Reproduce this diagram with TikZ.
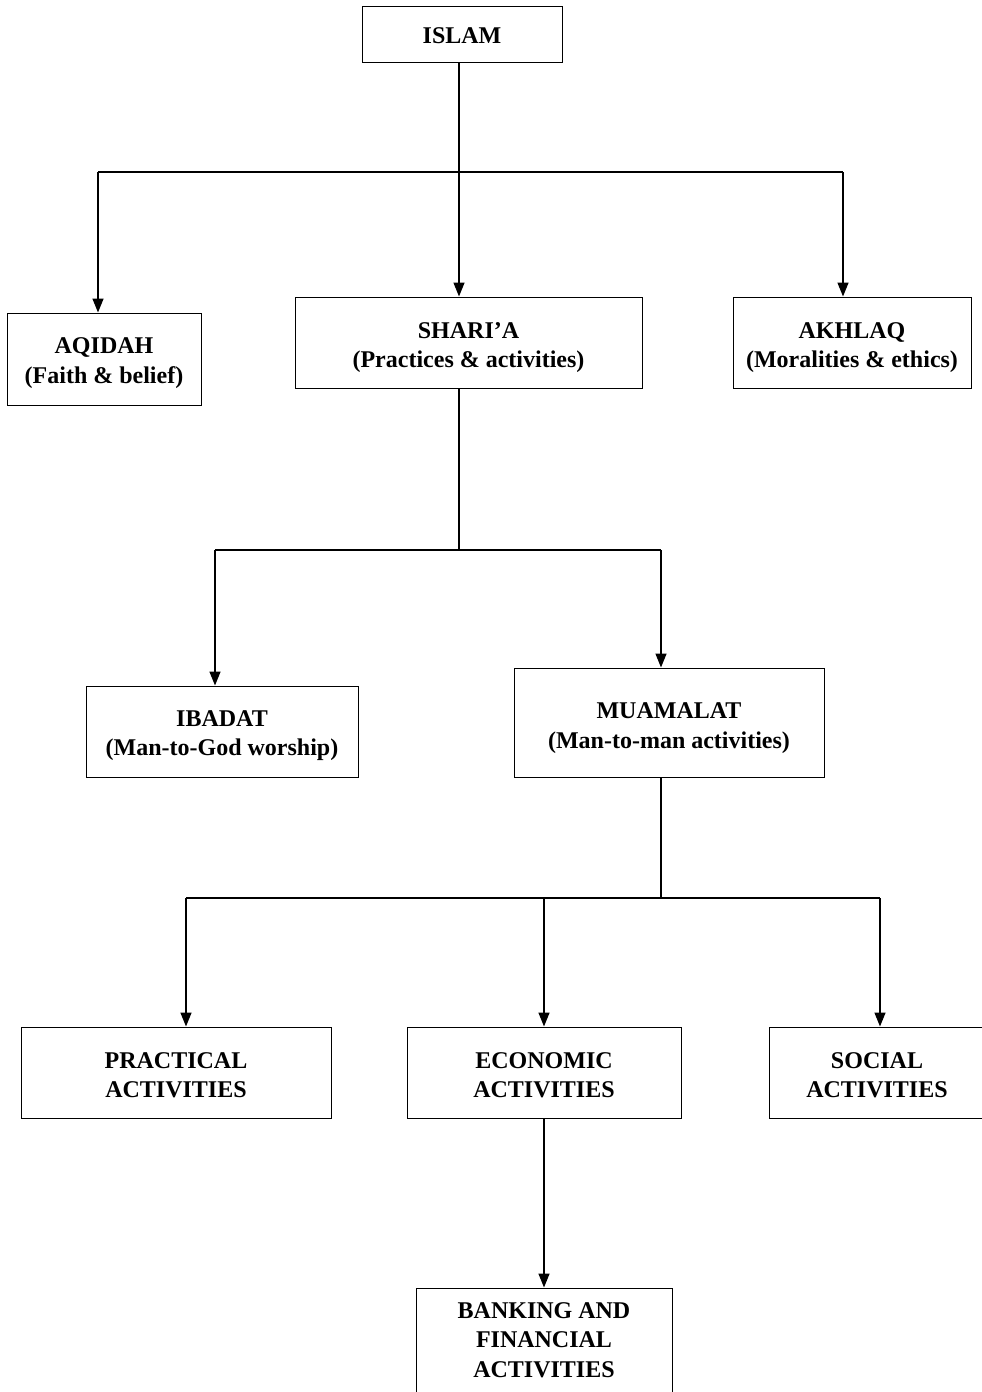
\documentclass[tikz,border=0pt]{standalone}
\usepackage{fontspec}
\setmainfont{Liberation Serif}
\usetikzlibrary{arrows.meta}
\tikzset{
  box/.style={draw, line width=1pt, rectangle, inner sep=0pt},
  txt/.style={align=center, inner sep=0pt,
    font=\fontsize{24}{29.5}\selectfont\bfseries},
  arr/.style={line width=1.5pt, -{Triangle[length=14pt,width=11pt]}},
  ln/.style={line width=1.2pt},
}
\begin{document}
\begin{tikzpicture}[x=1pt,y=-1pt]
\useasboundingbox (0,0) rectangle (982,1392);
\clip (0,0) rectangle (982,1392);
\node[box, minimum width=200pt, minimum height=56pt] (islam) at (462,34) {};
\node[txt] (islamT) at ([yshift=-2pt]islam.center) {ISLAM};
\node[box, minimum width=194pt, minimum height=92pt] (aqidah) at (104,359) {};
\node[txt] (aqidahT) at ([yshift=-4pt]aqidah.center) {AQIDAH\\(Faith \& belief)};
\node[box, minimum width=347pt, minimum height=91pt] (shari) at (468.5,342.5) {};
\node[txt] (shariT) at ([yshift=-5pt]shari.center) {SHARI’A\\(Practices \& activities)};
\node[box, minimum width=238pt, minimum height=91pt] (akhlaq) at (852,342.5) {};
\node[txt] (akhlaqT) at ([yshift=-5pt]akhlaq.center) {AKHLAQ\\(Moralities \& ethics)};
\node[box, minimum width=272pt, minimum height=91pt] (ibadat) at (222,731.5) {};
\node[txt] (ibadatT) at ([yshift=-4pt]ibadat.center) {IBADAT\\(Man-to-God worship)};
\node[box, minimum width=310pt, minimum height=109pt] (muamalat) at (669,722.5) {};
\node[txt] (muamalatT) at ([yshift=-5.5pt]muamalat.center) {MUAMALAT\\(Man-to-man activities)};
\node[box, minimum width=310pt, minimum height=91pt] (practical) at (176,1072.5) {};
\node[txt] (practicalT) at ([yshift=-2.5pt]practical.center) {PRACTICAL\\ACTIVITIES};
\node[box, minimum width=274pt, minimum height=91pt] (economic) at (544,1072.5) {};
\node[txt] (economicT) at ([yshift=-2.5pt]economic.center) {ECONOMIC\\ACTIVITIES};
\node[box, minimum width=216pt, minimum height=91pt] (social) at (877,1072.5) {};
\node[txt] (socialT) at ([yshift=-2.5pt]social.center) {SOCIAL\\ACTIVITIES};
\node[box, minimum width=256pt, minimum height=108pt] (banking) at (544,1342) {};
\node[txt] (bankingT) at ([yshift=2pt]banking.center) {BANKING AND\\FINANCIAL\\ACTIVITIES};
% level 1
\coordinate (j1) at (459,172);
\coordinate (j1L) at (98,172);
\coordinate (j1R) at (843,172);
\draw[arr] (islam.south -| j1) -- (j1 |- shari.north);
\draw[ln] (j1L) -- (j1R);
\draw[arr] (j1L) -- (j1L |- aqidah.north);
\draw[arr] (j1R) -- (j1R |- akhlaq.north);
% level 2
\coordinate (j2) at (459,550);
\coordinate (j2L) at (215,550);
\coordinate (j2R) at (661,550);
\draw[ln] (shari.south -| j2) -- (j2);
\draw[ln] (j2L) -- (j2R);
\draw[arr] (j2L) -- (j2L |- ibadat.north);
\draw[arr] (j2R) -- (j2R |- muamalat.north);
% level 3
\coordinate (j3) at (661,898);
\coordinate (j3L) at (186,898);
\coordinate (j3M) at (544,898);
\coordinate (j3R) at (880,898);
\draw[ln] (muamalat.south -| j3) -- (j3);
\draw[ln] (j3L) -- (j3R);
\draw[arr] (j3L) -- (j3L |- practical.north);
\draw[arr] (j3M) -- (j3M |- economic.north);
\draw[arr] (j3R) -- (j3R |- social.north);
% level 4
\draw[arr] (economic.south) -- (banking.north);
\end{tikzpicture}
\end{document}
